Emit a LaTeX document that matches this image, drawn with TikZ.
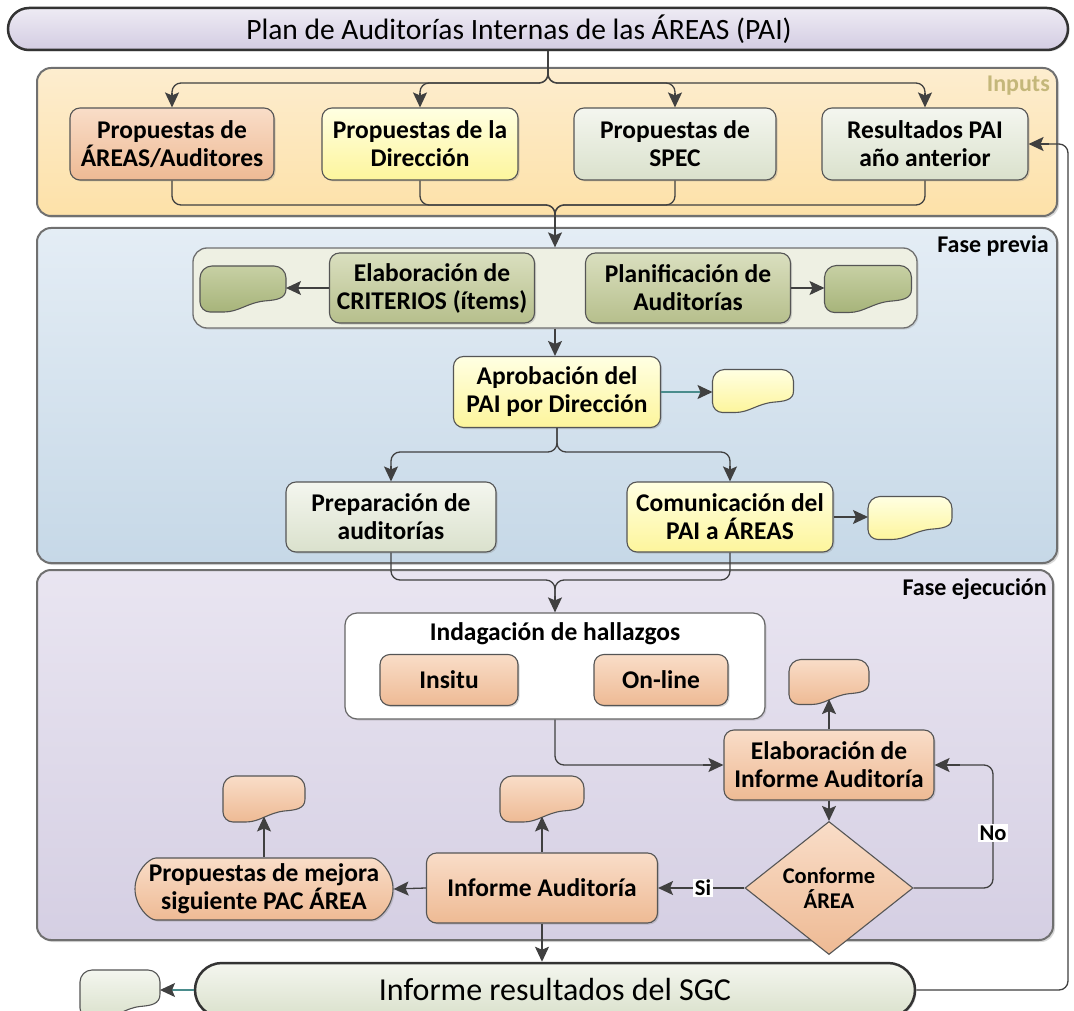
\documentclass[tikz,border=0pt]{standalone}
\usepackage{fontspec}
\setmainfont{Carlito}
\usetikzlibrary{arrows.meta,shapes.misc,shapes.geometric,shadows}

\definecolor{arrc}{HTML}{404040}
\definecolor{tealc}{HTML}{4A8C8C}
\definecolor{bline}{HTML}{555555}
\definecolor{pline}{HTML}{707070}
\definecolor{ttlT}{HTML}{EEEBF4}
\definecolor{ttlB}{HTML}{D3CCE2}
\definecolor{inpT}{HTML}{FDEDCF}
\definecolor{inpB}{HTML}{FDE1A8}
\definecolor{preT}{HTML}{E4EDF5}
\definecolor{preB}{HTML}{C6D8E7}
\definecolor{exeT}{HTML}{E9E5F1}
\definecolor{exeB}{HTML}{D5CFE3}
\definecolor{salT}{HTML}{F9DDC8}
\definecolor{salB}{HTML}{EEBA94}
\definecolor{yelT}{HTML}{FFFFE2}
\definecolor{yelB}{HTML}{FDF59C}
\definecolor{grnT}{HTML}{F4F6EF}
\definecolor{grnB}{HTML}{DAE1CC}
\definecolor{oliT}{HTML}{DADFBF}
\definecolor{oliB}{HTML}{B6BF8C}
\definecolor{innF}{HTML}{EEF0E3}
\definecolor{bolT}{HTML}{C7D0A4}
\definecolor{bolB}{HTML}{A7B47A}
\definecolor{inlab}{HTML}{C4B77A}

\newcommand{\bxfont}{\fontsize{25.5}{28}\selectfont\bfseries}
\newcommand{\ttlfont}{\fontsize{29.5}{33}\selectfont}
\newcommand{\resfont}{\fontsize{32}{36}\selectfont}
\newcommand{\lblfont}{\fontsize{24}{28}\selectfont\bfseries}
\newcommand{\smfont}{\fontsize{22.5}{25}\selectfont\bfseries}

% blob: name, cx, cy, w, h, style
\newcommand{\blobshape}[6]{%
  \node[minimum width=#4pt, minimum height=#5pt, inner sep=0pt, outer sep=0pt] (#1) at (#2,#3) {};
  \coordinate (#1-b) at (#2,{#3+0.38*#5});
  \path[draw=bline, line width=1.1pt, #6]
    ({#2-#4/2},{#3})
    -- ({#2-#4/2},{#3-#5/2+12})
    .. controls ({#2-#4/2},{#3-#5/2+5.4}) and ({#2-#4/2+5.4},{#3-#5/2}) .. ({#2-#4/2+12},{#3-#5/2})
    -- ({#2+#4/2-12},{#3-#5/2})
    .. controls ({#2+#4/2-5.4},{#3-#5/2}) and ({#2+#4/2},{#3-#5/2+5.4}) .. ({#2+#4/2},{#3-#5/2+12})
    -- ({#2+#4/2},{#3})
    .. controls ({#2+#4/2},{#3+0.22*#5}) and ({#2+0.38*#4},{#3+0.24*#5}) .. ({#2+0.25*#4},{#3+0.26*#5})
    .. controls ({#2+0.05*#4},{#3+0.3*#5}) and ({#2-0.05*#4},{#3+#5/2}) .. ({#2-0.22*#4},{#3+#5/2})
    -- ({#2-#4/2+10},{#3+#5/2})
    .. controls ({#2-#4/2+4.5},{#3+#5/2}) and ({#2-#4/2},{#3+#5/2-4.5}) .. ({#2-#4/2},{#3+#5/2-10})
    -- cycle;
}

\begin{document}
\begin{tikzpicture}[x=1pt,y=-1pt,
  bx/.style={draw=bline, line width=1.1pt, rounded corners=10pt, align=center, font=\bxfont, inner sep=2pt,
    drop shadow={shadow xshift=1.5pt, shadow yshift=-1.5pt, opacity=0.3}},
  salmon/.style={top color=salT, bottom color=salB},
  yel/.style={top color=yelT, bottom color=yelB},
  grn/.style={top color=grnT, bottom color=grnB},
  oli/.style={top color=oliT, bottom color=oliB},
  panel/.style={draw=pline, line width=2pt, rounded corners=14pt, inner sep=0pt,
    drop shadow={shadow xshift=2pt, shadow yshift=-2pt, opacity=0.3}},
  capsule/.style={rounded rectangle, draw=black!80, line width=2.5pt, inner sep=0pt,
    drop shadow={shadow xshift=1.5pt, shadow yshift=-1.5pt, opacity=0.3}},
  arr/.style={draw=arrc, line width=1.3pt, -{Stealth[length=15pt,width=14pt,inset=3pt]}},
  rnd/.style={draw=arrc, line width=1.3pt, rounded corners=9pt},
  tarr/.style={draw=tealc, line width=1.4pt, -{Stealth[length=15pt,width=14pt,inset=3pt,color=arrc]}},
  plabel/.style={font=\lblfont, anchor=east, inner sep=0pt},
  yn/.style={fill=white, font=\smfont, inner sep=1.5pt}
]
\useasboundingbox (0,0) rectangle (1074,1011);
\fill[white] (0,0) rectangle (1074,1011);

% ---------- title ----------
\node[capsule, top color=ttlT, bottom color=ttlB, minimum width=1060pt, minimum height=42pt] (title) at (538,29) {};
\node[font=\ttlfont, inner sep=0pt] (titlet) at (519,29) {Plan de Auditorías Internas de las ÁREAS (PAI)};

% ---------- panels ----------
\node[panel, top color=inpT, bottom color=inpB, minimum width=1020pt, minimum height=148pt] (pinp) at (547,142) {};
\node[panel, top color=preT, bottom color=preB, minimum width=1020pt, minimum height=335pt] (ppre) at (547,395.5) {};
\node[panel, top color=exeT, bottom color=exeB, minimum width=1016pt, minimum height=370pt] (pexe) at (545,755) {};

\node[plabel, text=inlab] (linp) at (1050,86) {Inputs};
\node[plabel] (lpre) at (1049,246) {Fase previa};
\node[plabel] (lexe) at (1047,589) {Fase ejecución};

% ---------- inputs ----------
\node[bx, salmon, minimum width=204pt, minimum height=72pt] (b1) at (172,144) {Propuestas de\\ÁREAS/Auditores};
\node[bx, yel, minimum width=196pt, minimum height=72pt] (b2) at (420,144) {Propuestas de la\\Dirección};
\node[bx, grn, minimum width=202pt, minimum height=72pt] (b3) at (675,144) {Propuestas de\\SPEC};
\node[bx, grn, minimum width=206pt, minimum height=72pt] (b4) at (925,144) {Resultados PAI\\año anterior};

% ---------- fase previa ----------
\node[draw=pline, line width=1.3pt, rounded corners=14pt, fill=innF, minimum width=724pt, minimum height=80pt,
  drop shadow={shadow xshift=1.5pt, shadow yshift=-1.5pt, opacity=0.25}] (inner) at (555,288) {};
\node[bx, oli, minimum width=205pt, minimum height=70pt] (elab) at (432,288) {Elaboración de\\CRITERIOS (ítems)};
\node[bx, oli, minimum width=205pt, minimum height=70pt] (plan) at (688,288) {Planificación de\\Auditorías};
\blobshape{blobL}{243}{289}{86}{46}{top color=bolT, bottom color=bolB}
\blobshape{blobR}{868}{289}{87}{47}{top color=bolT, bottom color=bolB}

\node[bx, yel, minimum width=207pt, minimum height=71pt] (aprob) at (557,392) {Aprobación del\\PAI por Dirección};
\blobshape{blobY}{753}{391}{81}{43}{top color=yelT, bottom color=yelB}

\node[bx, grn, minimum width=210pt, minimum height=70pt] (prep) at (391,517) {Preparación de\\auditorías};
\node[bx, yel, minimum width=206pt, minimum height=70pt] (com) at (730,517) {Comunicación del\\PAI a ÁREAS};
\blobshape{blobYb}{910}{518}{84}{43}{top color=yelT, bottom color=yelB}

% ---------- fase ejecucion ----------
\node[draw=black!60, line width=1.2pt, rounded corners=12pt, fill=white, minimum width=420pt, minimum height=106pt,
  drop shadow={shadow xshift=1.5pt, shadow yshift=-1.5pt, opacity=0.25}] (indag) at (555,666) {};
\node[font=\bxfont, inner sep=0pt] (indagt) at (555,634) {Indagación de hallazgos};
\node[bx, salmon, minimum width=138pt, minimum height=51pt] (insitu) at (449,680) {Insitu};
\node[bx, salmon, minimum width=134pt, minimum height=51pt] (online) at (661,680) {On-line};

\node[bx, salmon, minimum width=210pt, minimum height=70pt] (elab2) at (829,765) {Elaboración de\\Informe Auditoría};
\blobshape{blobS1}{829}{682}{80}{45}{top color=salT, bottom color=salB}

\node[diamond, draw=bline, line width=1.1pt, top color=salT, bottom color=salB, minimum width=168pt, minimum height=90pt,
  inner sep=0pt, align=center, font=\smfont] (dia) at (829,888) {Conforme\\ÁREA};

\node[bx, salmon, minimum width=231pt, minimum height=70pt] (inf) at (542,888) {Informe Auditoría};
\blobshape{blobS2}{542}{799}{84}{46}{top color=salT, bottom color=salB}

\node[bx, salmon, rounded rectangle, minimum width=262pt, minimum height=62pt] (mej) at (264,889)
  {Propuestas de mejora\\siguiente PAC ÁREA};
\blobshape{blobS3}{264}{799}{82}{46}{top color=salT, bottom color=salB}

% ---------- bottom ----------
\node[capsule, top color=grnT, bottom color=grnB, minimum width=720pt, minimum height=54pt, font=\resfont] (res) at (555,990)
  {Informe resultados del SGC};
\blobshape{blobG}{120}{994}{80}{48}{top color=grnT, bottom color=grnB}

% ---------- connectors ----------
\draw[rnd] ([xshift=10pt]title.south) -- ([xshift=10pt]title.south |- 0,83) -| ([yshift=14pt]b1.north);
\draw[rnd] ([xshift=10pt]title.south) -- ([xshift=10pt]title.south |- 0,83) -| ([yshift=14pt]b2.north);
\draw[rnd] ([xshift=10pt]title.south) -- ([xshift=10pt]title.south |- 0,83) -| ([yshift=14pt]b3.north);
\draw[rnd] ([xshift=10pt]title.south) -- ([xshift=10pt]title.south |- 0,83) -| ([yshift=14pt]b4.north);
\draw[arr] ([yshift=14pt]b1.north) -- (b1.north);
\draw[arr] ([yshift=14pt]b2.north) -- (b2.north);
\draw[arr] ([yshift=14pt]b3.north) -- (b3.north);
\draw[arr] ([yshift=14pt]b4.north) -- (b4.north);

\draw[rnd] (b1.south) |- (inner.north |- 0,205) -- ([yshift=22pt]inner.north);
\draw[rnd] (b2.south) |- (inner.north |- 0,205) -- ([yshift=22pt]inner.north);
\draw[rnd] (b3.south) |- (inner.north |- 0,205) -- ([yshift=22pt]inner.north);
\draw[rnd] (b4.south) |- (inner.north |- 0,205) -- ([yshift=22pt]inner.north);
\draw[arr] ([yshift=22pt]inner.north) -- (inner.north);

\draw[arr] (elab.west) -- (blobL.east |- elab.west);
\draw[arr] (plan.east) -- (blobR.west |- plan.east);
\draw[arr] (inner.south) -- (inner.south |- aprob.north);
\draw[tarr] (aprob.east) -- (blobY.west |- aprob.east);

\draw[rnd] (aprob.south) -- (aprob.south |- 0,452) -| ([yshift=15pt]prep.north);
\draw[rnd] (aprob.south) -- (aprob.south |- 0,452) -| ([yshift=15pt]com.north);
\draw[arr] ([yshift=15pt]prep.north) -- (prep.north);
\draw[arr] ([yshift=15pt]com.north) -- (com.north);
\draw[arr] (com.east) -- (blobYb.west |- com.east);

\draw[rnd] (prep.south) |- (indag.north |- 0,580) -- ([yshift=16pt]indag.north);
\draw[rnd] (com.south) |- (indag.north |- 0,580) -- ([yshift=16pt]indag.north);
\draw[arr] ([yshift=16pt]indag.north) -- (indag.north);

\draw[rnd] (indag.south) |- ([xshift=-20pt]elab2.west);
\draw[arr] ([xshift=-20pt]elab2.west) -- (elab2.west);
\draw[arr] (elab2.north) -- (blobS1-b);
\draw[arr] (elab2.south) -- (dia.north);
\draw[rnd] (dia.east) -- (993,888) |- ([xshift=25pt]elab2.east);
\draw[arr] ([xshift=25pt]elab2.east) -- (elab2.east);
\node[yn] (no) at (993,833) {No};
\draw[arr] (dia.west) -- (inf.east);
\node[yn] (si) at (703,888) {Si};

\draw[arr] (inf.north) -- (blobS2-b);
\draw[arr] (inf.west) -- (mej.east);
\draw[arr] (mej.north) -- (blobS3-b);
\draw[arr] (inf.south) -- (inf.south |- res.north);

\draw[tarr] (res.west) -- (blobG.east |- res.west);
\draw[rnd] (res.east) -- (1068,990) |- ([xshift=20pt]b4.east);
\draw[arr] ([xshift=20pt]b4.east) -- (b4.east);
\end{tikzpicture}
\end{document}
